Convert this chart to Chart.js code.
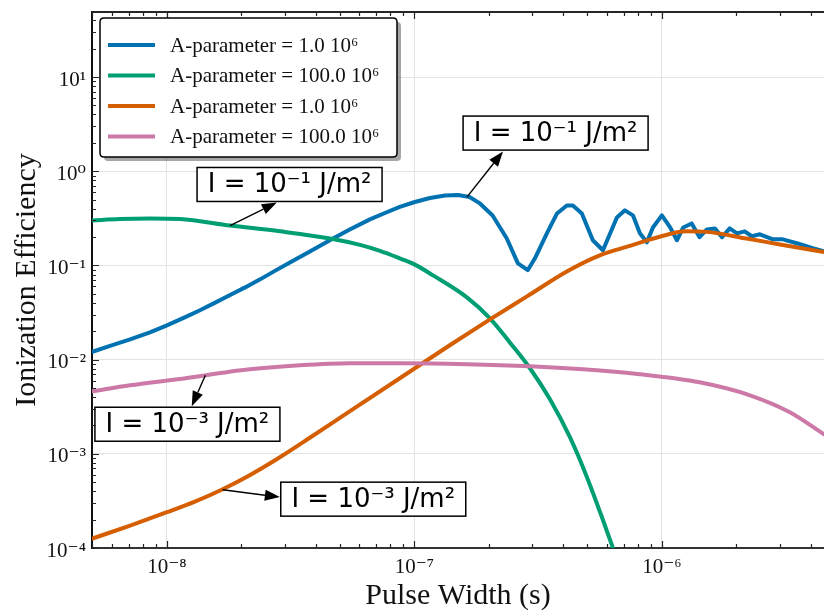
<!DOCTYPE html>
<html>
<head>
<meta charset="utf-8">
<script src="https://cdn.jsdelivr.net/npm/chart.js@4.4.1/dist/chart.umd.min.js"></script>
<style>
  html, body { margin: 0; padding: 0; background: #fff; }
  #c { display: block; }
</style>
</head>
<body>
<canvas id="c" width="824" height="612"></canvas>
<script>
// ---------------- data ----------------
const blueX = [5e-9, 5.89e-9, 7.1e-9, 8.54e-9, 1e-8, 1.18e-8, 1.36e-8, 1.56e-8, 1.80e-8, 2.07e-8, 2.38e-8, 2.73e-8, 3.14e-8, 3.78e-8, 4.69e-8, 5.48e-8, 6.61e-8, 7.60e-8, 8.73e-8, 1.004e-7, 1.156e-7, 1.33e-7, 1.50e-7, 1.67e-7, 1.84e-7, 2.07e-7, 2.36e-7, 2.62e-7, 2.87e-7, 3.07e-7, 3.43e-7, 3.77e-7, 4.13e-7, 4.37e-7, 4.75e-7, 5.26e-7, 5.78e-7, 6.58e-7, 7.09e-7, 7.64e-7, 8.15e-7, 8.70e-7, 9.2e-7, 1.0e-6, 1.08e-6, 1.15e-6, 1.22e-6, 1.32e-6, 1.42e-6, 1.52e-6, 1.64e-6, 1.75e-6, 1.88e-6, 2.01e-6, 2.16e-6, 2.31e-6, 2.49e-6, 2.81e-6, 3.08e-6, 3.51e-6, 4.07e-6, 4.52e-6];
const blueY = [0.0121, 0.0140, 0.0164, 0.0195, 0.0231, 0.0281, 0.0334, 0.0400, 0.0486, 0.0584, 0.0711, 0.0875, 0.1076, 0.1406, 0.193, 0.241, 0.308, 0.360, 0.418, 0.471, 0.520, 0.553, 0.559, 0.533, 0.455, 0.339, 0.194, 0.105, 0.089, 0.119, 0.219, 0.356, 0.433, 0.433, 0.356, 0.185, 0.145, 0.323, 0.384, 0.340, 0.219, 0.176, 0.253, 0.340, 0.253, 0.185, 0.253, 0.279, 0.199, 0.241, 0.247, 0.199, 0.247, 0.219, 0.230, 0.204, 0.214, 0.189, 0.189, 0.172, 0.152, 0.141];

const greenX = [5e-9, 6.45e-9, 8.54e-9, 1.128e-8, 1.80e-8, 2.86e-8, 4.56e-8, 6.03e-8, 7.26e-8, 8.73e-8, 1.0e-7, 1.19e-7, 1.63e-7, 2.02e-7, 2.43e-7, 2.93e-7, 3.53e-7, 4.25e-7, 4.98e-7, 5.78e-7, 6.58e-7, 7.43e-7];
const greenY = [0.300, 0.311, 0.315, 0.311, 0.265, 0.230, 0.193, 0.165, 0.1425, 0.1186, 0.1025, 0.0783, 0.0458, 0.0274, 0.0152, 0.00809, 0.00379, 0.00150, 5.65e-4, 1.98e-4, 7.6e-5, 3.09e-5];

const orangeX = [5e-9, 7.1e-9, 1e-8, 1.297e-8, 1.68e-8, 2.16e-8, 2.86e-8, 3.78e-8, 5.34e-8, 8.73e-8, 1.39e-7, 2.02e-7, 2.85e-7, 4.13e-7, 5.61e-7, 7.43e-7, 9.55e-7, 1.26e-6, 1.52e-6, 2.20e-6, 3.00e-6, 4.52e-6];
const orangeY = [1.26e-4, 1.73e-4, 2.40e-4, 3.11e-4, 4.21e-4, 5.93e-4, 9.20e-4, 1.48e-3, 2.70e-3, 6.34e-3, 0.0142, 0.0267, 0.0469, 0.0863, 0.128, 0.161, 0.198, 0.230, 0.227, 0.193, 0.167, 0.139];

const pinkX = [5e-9, 7.1e-9, 1.10e-8, 2.16e-8, 3.44e-8, 5.48e-8, 8.73e-8, 1.63e-7, 2.93e-7, 4.80e-7, 8.15e-7, 1.42e-6, 2.27e-6, 3.29e-6, 4.52e-6];
const pinkY = [4.61e-3, 5.33e-3, 6.18e-3, 7.88e-3, 8.70e-3, 9.14e-3, 9.14e-3, 8.93e-3, 8.49e-3, 7.88e-3, 6.99e-3, 5.74e-3, 4.18e-3, 2.76e-3, 1.61e-3];

const seriesLabels = ["A-parameter = 1.0 10⁶", "A-parameter = 100.0 10⁶", "A-parameter = 1.0 10⁶", "A-parameter = 100.0 10⁶"];
const seriesColors = ["#0072B2", "#009E73", "#D55E00", "#CC79A7"];

const xTickValues = [1e-8, 1e-7, 1e-6];
const yTickValues = [1e-4, 1e-3, 1e-2, 1e-1, 1e0, 1e1];
const X_MIN = 4.98e-9, X_MAX = 4.52e-6;
const Y_MIN = 1e-4, Y_MAX = 49;

const xTitle = "Pulse Width (s)";
const yTitle = "Ionization Efficiency";

// annotations: text, box centre, arrow head, arrow tail (data coordinates)
const annTexts  = ["I = 10⁻¹ J/m²", "I = 10⁻¹ J/m²", "I = 10⁻³ J/m²", "I = 10⁻³ J/m²"];
const annCenter = [[3.72e-7, 2.54], [3.13e-8, 0.723], [1.21e-8, 2.06e-3], [6.82e-8, 3.30e-4]];
const annHead   = [[2.28e-7, 1.62], [2.78e-8, 0.466], [1.26e-8, 3.20e-3], [2.86e-8, 3.47e-4]];
const annTail   = [[1.63e-7, 0.53], [1.80e-8, 0.265], [1.43e-8, 6.82e-3], [1.68e-8, 4.15e-4]];

// ---------------- helpers ----------------
const SUP = {'-':'⁻','0':'⁰','1':'¹','2':'²','3':'³','4':'⁴','5':'⁵','6':'⁶','7':'⁷','8':'⁸','9':'⁹'};
function powLabel(v) {
  const e = String(Math.round(Math.log10(v)));
  return '10' + e.split('').map(c => SUP[c]).join('');
}
const zip = (xs, ys) => xs.map((x, i) => ({x, y: ys[i]}));
const SERIF = "'Liberation Serif', 'DejaVu Serif', serif";

// ---------------- plugins ----------------
const frameTicks = {
  id: 'frameTicks',
  afterDraw(chart) {
    const {ctx, chartArea: a, scales: {x, y}} = chart;
    ctx.save();
    ctx.strokeStyle = '#262626';
    ctx.lineWidth = 2;
    ctx.beginPath();
    ctx.moveTo(a.left, a.top); ctx.lineTo(a.right, a.top);
    ctx.stroke();
    ctx.lineWidth = 1.2;
    ctx.beginPath();
    for (let d = -9; d <= -5; d++) {
      for (let m = 1; m <= 9; m++) {
        const v = m * Math.pow(10, d);
        if (v < X_MIN || v > X_MAX) continue;
        const px = Math.round(x.getPixelForValue(v)) + 0.5;
        const L = m === 1 ? 7 : 4;
        ctx.moveTo(px, a.bottom); ctx.lineTo(px, a.bottom - L);
        ctx.moveTo(px, a.top); ctx.lineTo(px, a.top + L);
      }
    }
    for (let d = -4; d <= 1; d++) {
      for (let m = 1; m <= 9; m++) {
        const v = m * Math.pow(10, d);
        if (v < Y_MIN || v > Y_MAX) continue;
        const py = Math.round(y.getPixelForValue(v)) + 0.5;
        const L = m === 1 ? 7 : 4;
        ctx.moveTo(a.left, py); ctx.lineTo(a.left + L, py);
      }
    }
    ctx.stroke();
    ctx.restore();
  }
};

const annotations = {
  id: 'annotations',
  afterDatasetsDraw(chart) {
    const {ctx, scales: {x, y}} = chart;
    ctx.save();
    ctx.font = "26px 'DejaVu Sans', sans-serif";
    annTexts.forEach((t, i) => {
      const cx = x.getPixelForValue(annCenter[i][0]);
      const cy = y.getPixelForValue(annCenter[i][1]);
      const hx = x.getPixelForValue(annHead[i][0]);
      const hy = y.getPixelForValue(annHead[i][1]);
      const tx = x.getPixelForValue(annTail[i][0]);
      const ty = y.getPixelForValue(annTail[i][1]);
      const ang = Math.atan2(hy - ty, hx - tx);
      const HL = 15, HW = 5.5;
      const bx = hx - HL * Math.cos(ang), by = hy - HL * Math.sin(ang);
      ctx.strokeStyle = '#000'; ctx.fillStyle = '#000'; ctx.lineWidth = 1.4;
      ctx.beginPath(); ctx.moveTo(tx, ty); ctx.lineTo(bx, by); ctx.stroke();
      ctx.beginPath();
      ctx.moveTo(hx, hy);
      ctx.lineTo(bx + HW * Math.sin(ang), by - HW * Math.cos(ang));
      ctx.lineTo(bx - HW * Math.sin(ang), by + HW * Math.cos(ang));
      ctx.closePath(); ctx.fill();
      const w = 185, h = 34;
      ctx.fillStyle = '#fff';
      ctx.fillRect(cx - w / 2, cy - h / 2, w, h);
      ctx.lineWidth = 1.5; ctx.strokeStyle = '#000';
      ctx.strokeRect(cx - w / 2, cy - h / 2, w, h);
      ctx.fillStyle = '#000';
      ctx.textAlign = 'center'; ctx.textBaseline = 'middle';
      ctx.fillText(t, cx, cy + 1);
    });
    ctx.restore();
  }
};

function roundRect(ctx, x, y, w, h, r) {
  ctx.beginPath();
  ctx.moveTo(x + r, y);
  ctx.lineTo(x + w - r, y); ctx.quadraticCurveTo(x + w, y, x + w, y + r);
  ctx.lineTo(x + w, y + h - r); ctx.quadraticCurveTo(x + w, y + h, x + w - r, y + h);
  ctx.lineTo(x + r, y + h); ctx.quadraticCurveTo(x, y + h, x, y + h - r);
  ctx.lineTo(x, y + r); ctx.quadraticCurveTo(x, y, x + r, y);
  ctx.closePath();
}

const legendBox = {
  id: 'legendBox',
  afterDraw(chart) {
    const {ctx, chartArea: a} = chart;
    const x0 = a.left + 8, y0 = a.top + 6, w = 297, h = 139;
    ctx.save();
    ctx.fillStyle = 'rgba(0,0,0,0.35)';
    roundRect(ctx, x0 + 4, y0 + 4, w, h, 4); ctx.fill();
    ctx.fillStyle = '#fff';
    roundRect(ctx, x0, y0, w, h, 4); ctx.fill();
    ctx.strokeStyle = '#000'; ctx.lineWidth = 1.5; ctx.stroke();
    ctx.font = "21px " + SERIF;
    ctx.textBaseline = 'middle'; ctx.textAlign = 'left';
    chart.data.datasets.forEach((ds, i) => {
      const yy = y0 + 27 + i * 30.5;
      ctx.strokeStyle = ds.borderColor; ctx.lineWidth = 4;
      ctx.beginPath(); ctx.moveTo(x0 + 8, yy); ctx.lineTo(x0 + 55, yy); ctx.stroke();
      ctx.fillStyle = '#111';
      ctx.fillText(ds.label, x0 + 70, yy + 1);
    });
    ctx.restore();
  }
};

// ---------------- chart ----------------
const seriesData = [zip(blueX, blueY), zip(greenX, greenY), zip(orangeX, orangeY), zip(pinkX, pinkY)];

new Chart(document.getElementById('c'), {
  type: 'line',
  data: {
    datasets: seriesData.map((d, i) => ({
      label: seriesLabels[i],
      data: d,
      borderColor: seriesColors[i],
      backgroundColor: seriesColors[i],
      borderWidth: 4,
      pointRadius: 0,
      fill: false,
      order: 3 - i,
      tension: i === 0 ? 0 : 0.4,
      cubicInterpolationMode: i === 0 ? 'default' : 'monotone',
      borderJoinStyle: 'round',
      borderCapStyle: 'round'
    }))
  },
  options: {
    responsive: false,
    animation: false,
    devicePixelRatio: 1,
    layout: { padding: { top: 12, right: 0, left: 0, bottom: 0 } },
    plugins: { legend: { display: false }, tooltip: { enabled: false } },
    scales: {
      x: {
        type: 'logarithmic', min: X_MIN, max: X_MAX, bounds: 'data',
        afterBuildTicks: s => { s.ticks = xTickValues.map(v => ({value: v})); },
        afterFit: s => { s.height = 64; s.paddingLeft = 0; s.paddingRight = 0; },
        ticks: { callback: v => powLabel(v), font: {family: SERIF, size: 21}, color: '#111', padding: 7, maxRotation: 0, autoSkip: false },
        grid: { color: '#e3e3e3', lineWidth: 1, drawTicks: false },
        border: { color: '#333', width: 2 },
        title: { display: true, text: xTitle, color: '#111', font: {family: SERIF, size: 30, lineHeight: 1.05}, padding: {top: 0, bottom: 0} }
      },
      y: {
        type: 'logarithmic', min: Y_MIN, max: Y_MAX, bounds: 'data',
        afterBuildTicks: s => { s.ticks = yTickValues.map(v => ({value: v})); },
        afterFit: s => { s.width = 92; s.paddingTop = 0; s.paddingBottom = 0; },
        ticks: { callback: v => powLabel(v), font: {family: SERIF, size: 21}, color: '#111', padding: 6, labelOffset: 3, autoSkip: false },
        grid: { color: '#e3e3e3', lineWidth: 1, drawTicks: false },
        border: { color: '#111', width: 2 },
        title: { display: true, text: yTitle, color: '#111', font: {family: SERIF, size: 30, lineHeight: 1.05}, padding: {top: 11, bottom: 0} }
      }
    }
  },
  plugins: [annotations, frameTicks, legendBox]
});
</script>
</body>
</html>
